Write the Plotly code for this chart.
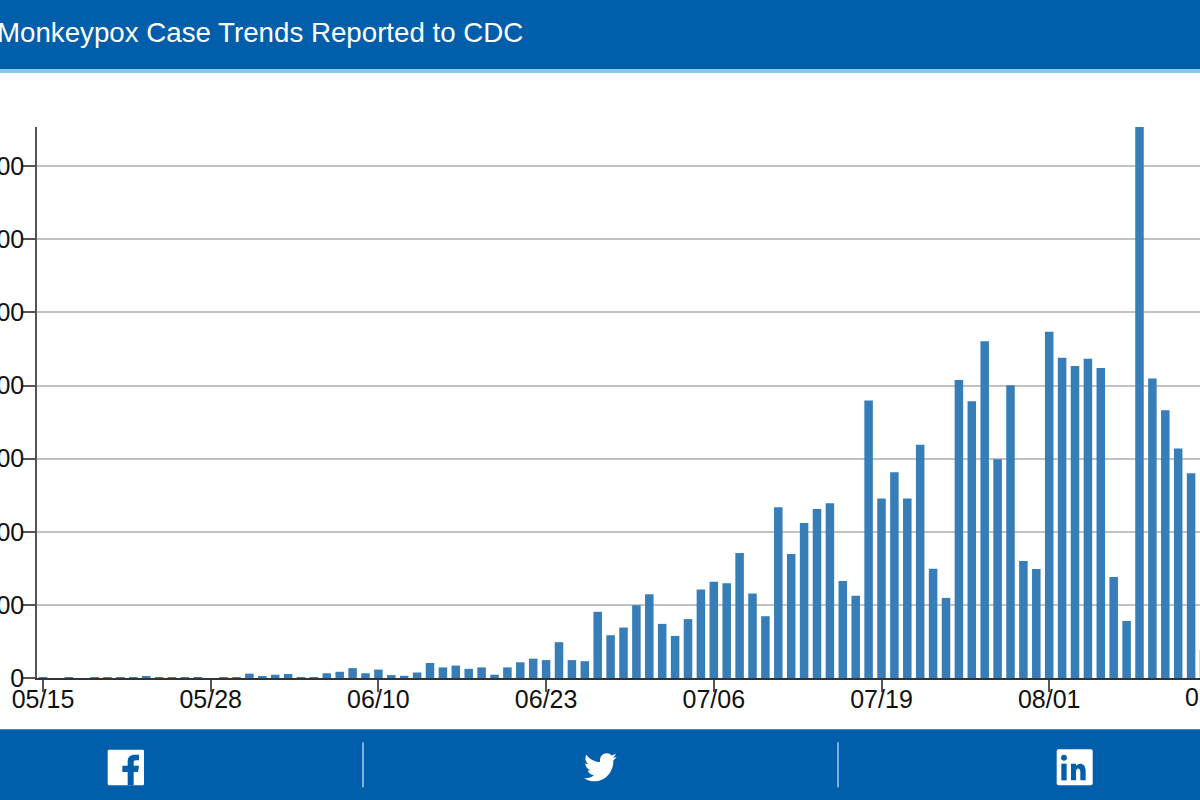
import re
import plotly.graph_objects as go

TITLE = "Monkeypox Case Trends Reported to CDC"

DATES = [
    "05/15","05/16","05/17","05/18","05/19","05/20","05/21","05/22","05/23","05/24","05/25","05/26","05/27",
    "05/28","05/29","05/30","05/31","06/01","06/02","06/03","06/04","06/05","06/06","06/07","06/08","06/09",
    "06/10","06/11","06/12","06/13","06/14","06/15","06/16","06/17","06/18","06/19","06/20","06/21","06/22",
    "06/23","06/24","06/25","06/26","06/27","06/28","06/29","06/30","07/01","07/02","07/03","07/04","07/05",
    "07/06","07/07","07/08","07/09","07/10","07/11","07/12","07/13","07/14","07/15","07/16","07/17","07/18",
    "07/19","07/20","07/21","07/22","07/23","07/24","07/25","07/26","07/27","07/28","07/29","07/30","07/31",
    "08/01","08/02","08/03","08/04","08/05","08/06","08/07","08/08","08/09","08/10","08/11","08/12","08/13",
]
CASES = [
    1,0,1,0,1,2,2,2,4,1,2,2,2,
    0,2,1,12,4,9,11,1,1,13,17,27,13,
    23,8,6,15,41,29,34,25,29,9,29,43,53,
    49,98,49,46,181,117,138,199,229,148,115,161,242,
    263,259,342,231,169,467,339,424,462,478,265,225,759,
    491,563,491,638,299,219,815,757,921,598,801,320,298,
    947,876,853,873,848,276,156,1507,819,732,628,560,77,
]
X_TICKS = ["05/15","05/28","06/10","06/23","07/06","07/19","08/01"]
OFF_EDGE_TICK = "08/14"
Y_TICKS = [0,200,400,600,800,1000,1200,1400]
Y_MAX = 1507

W, H = 1200, 800
L, R, T, B = 37, 0, 127, 122.3
PW, PH = W - L - R, H - T - B
BLUE, STRIP = "#005EAA", "#8CC5EC"
BAR = "#377EB8"
FONT = "Liberation Sans, Arial, sans-serif"
TICK_SIZE = 25

def px(x): return (x - L) / PW
def py(y): return (H - B - y) / PH

def rect(x0, y0, x1, y1, color):
    return dict(type="rect", xref="paper", yref="paper", x0=px(x0), x1=px(x1), y0=py(y0), y1=py(y1),
                fillcolor=color, line_width=0, layer="above")

def path(d, color):
    return dict(type="path", xref="paper", yref="paper", path=d, fillcolor=color, line_width=0, layer="above")

def abs_path(segs, ox, oy, sx, sy):
    out = []
    for cmd, pts in segs:
        s = cmd
        if pts:
            s += " ".join(f"{px(ox + a * sx):.5f},{py(oy + b * sy):.5f}" for a, b in pts)
        out.append(s)
    return "".join(out)

def round_rect(x0, y0, x1, y1, r):
    return [("M", [(x0 + r, y0)]), ("L", [(x1 - r, y0)]), ("Q", [(x1, y0), (x1, y0 + r)]),
            ("L", [(x1, y1 - r)]), ("Q", [(x1, y1), (x1 - r, y1)]), ("L", [(x0 + r, y1)]),
            ("Q", [(x0, y1), (x0, y1 - r)]), ("L", [(x0, y0 + r)]), ("Q", [(x0, y0), (x0 + r, y0)]), ("Z", [])]

FB_F = [("M", [(113,150)]), ("L", [(113,110)]), ("L", [(97,110)]), ("L", [(97,91)]), ("L", [(113,91)]),
        ("L", [(113,78)]), ("C", [(113,64),(122,58),(134,58)]), ("L", [(147,58)]), ("L", [(147,75)]),
        ("L", [(138,75)]), ("C", [(133,75),(131,77),(131,82)]), ("L", [(131,91)]), ("L", [(147,91)]),
        ("L", [(144,110)]), ("L", [(131,110)]), ("L", [(131,150)]), ("Z", [])]
LI_I = [("M", [(64,85)]), ("L", [(80,85)]), ("L", [(80,135)]), ("L", [(64,135)]), ("Z", [])]
LI_DOT = [("M", [(63,67)]), ("C", [(63,55),(81,55),(81,67)]), ("C", [(81,79),(63,79),(63,67)]), ("Z", [])]
LI_N = [("M", [(93,85)]), ("L", [(108,85)]), ("L", [(108,92)]), ("C", [(114,83),(137,79),(137,108)]),
        ("L", [(137,135)]), ("L", [(121,135)]), ("L", [(121,111)]), ("C", [(121,96),(108,96),(108,111)]),
        ("L", [(108,135)]), ("L", [(93,135)]), ("Z", [])]

BIRD = ("M459.37 151.716c.325 4.548.325 9.097.325 13.645 0 138.72-105.583 298.558-298.558 298.558"
        "-59.452 0-114.68-17.219-161.137-47.106 8.447.974 16.568 1.299 25.34 1.299 49.055 0 94.213-16.568 130.274-44.832"
        "-46.132-.975-84.792-31.188-98.112-72.772 6.498.974 12.995 1.624 19.818 1.624 9.421 0 18.843-1.3 27.614-3.573"
        "-48.081-9.747-84.143-51.98-84.143-102.985v-1.299c13.969 7.797 30.214 12.67 47.431 13.319"
        "-28.264-18.843-46.781-51.005-46.781-87.391 0-19.492 5.197-37.36 14.294-52.954 51.655 63.675 129.3 105.258 216.365 109.807"
        "-1.624-7.797-2.599-15.918-2.599-24.04 0-57.828 46.782-104.934 104.934-104.934 30.213 0 57.502 12.67 76.67 33.137"
        " 23.715-4.548 46.456-13.32 66.599-25.34-7.798 24.366-24.366 44.833-46.132 57.827 21.117-2.273 41.584-8.122 60.426-16.243"
        "-14.292 20.791-32.161 39.308-52.628 54.253z")

def bird_segments(d):
    toks = re.findall(r"[a-zA-Z]|-?\d*\.?\d+", d)
    segs, i, cx, cy = [], 0, 0.0, 0.0
    cmd = None
    while i < len(toks):
        if toks[i].isalpha():
            cmd = toks[i]; i += 1
            if cmd == "z":
                segs.append(("Z", [])); continue
        if cmd == "M":
            cx, cy = float(toks[i]), float(toks[i + 1]); i += 2
            segs.append(("M", [(cx, cy)]))
        elif cmd == "v":
            cy += float(toks[i]); i += 1
            segs.append(("L", [(cx, cy)]))
        elif cmd == "c":
            v = [float(t) for t in toks[i:i + 6]]; i += 6
            segs.append(("C", [(cx + v[0], cy + v[1]), (cx + v[2], cy + v[3]), (cx + v[4], cy + v[5])]))
            cx += v[4]; cy += v[5]
    return segs

shapes = [
    rect(-2, -2, W + 2, 69, BLUE),
    rect(-2, 69, W + 2, 73, STRIP),
    rect(-2, 729, W + 2, H + 2, BLUE),
    rect(362.5, 742, 363.5, 787, "white"),
    rect(837.5, 742, 838.5, 787, "white"),
    path(abs_path(round_rect(107.7, 749.3, 144, 785, 1.5), 0, 0, 1, 1), "white"),
    path(abs_path(FB_F, 90, 735, 1/3, 1/3), BLUE),
    path(abs_path(bird_segments(BIRD), 584, 753 - 48 * 0.0673, 32.7 / 512, 0.0673), "white"),
    path(abs_path(round_rect(1056.7, 749, 1092.7, 785, 2), 0, 0, 1, 1), "white"),
    path(abs_path(LI_I, 1040, 735, 1/3, 1/3), BLUE),
    path(abs_path(LI_DOT, 1040, 735, 1/3, 1/3), BLUE),
    path(abs_path(LI_N, 1040, 735, 1/3, 1/3), BLUE),
]

fig = go.Figure(go.Bar(x=DATES, y=CASES, marker=dict(color=BAR, line_width=0), width=0.66))
fig.update_layout(
    width=W, height=H, autosize=False,
    margin=dict(l=L, r=R, t=T, b=B, pad=0, autoexpand=False),
    paper_bgcolor="white", plot_bgcolor="white",
    showlegend=False, shapes=shapes,
    font=dict(family=FONT, size=TICK_SIZE, color="#111111"),
    annotations=[
        dict(text=TITLE, xref="paper", yref="paper", x=px(-5), y=py(33), xanchor="left", yanchor="middle",
             showarrow=False, font=dict(family=FONT, size=27.7, color="white")),
        dict(text=OFF_EDGE_TICK, xref="paper", yref="paper", x=px(1216.9), y=py(680.5), xanchor="center", yanchor="top",
             showarrow=False, font=dict(family=FONT, size=TICK_SIZE, color="#111111")),
    ],
)
fig.update_xaxes(
    type="category", categoryorder="array", categoryarray=DATES,
    range=[-0.465, 89.69], automargin=False,
    tickmode="array", tickvals=X_TICKS, ticktext=X_TICKS,
    ticks="outside", ticklen=12, tickwidth=1.5, tickcolor="#555555",
    showline=True, linecolor="#333333", linewidth=2,
    showgrid=False, zeroline=False, tickangle=0, ticklabelstandoff=-14,
    tickfont=dict(family=FONT, size=TICK_SIZE, color="#111111"),
)
fig.update_yaxes(
    range=[0, Y_MAX], tickmode="array", tickvals=Y_TICKS, automargin=False,
    ticks="outside", ticklen=12, tickwidth=1.5, tickcolor="#555555",
    showline=True, linecolor="#555555", linewidth=1.5,
    showgrid=True, gridcolor="#C2C2C2", gridwidth=1.5, zeroline=False, ticklabelstandoff=-6,
    tickfont=dict(family=FONT, size=TICK_SIZE, color="#111111"),
)
fig.write_html("out.html", config={"displayModeBar": False},
               post_script="document.body.style.margin='0';document.body.style.overflow='hidden';")
